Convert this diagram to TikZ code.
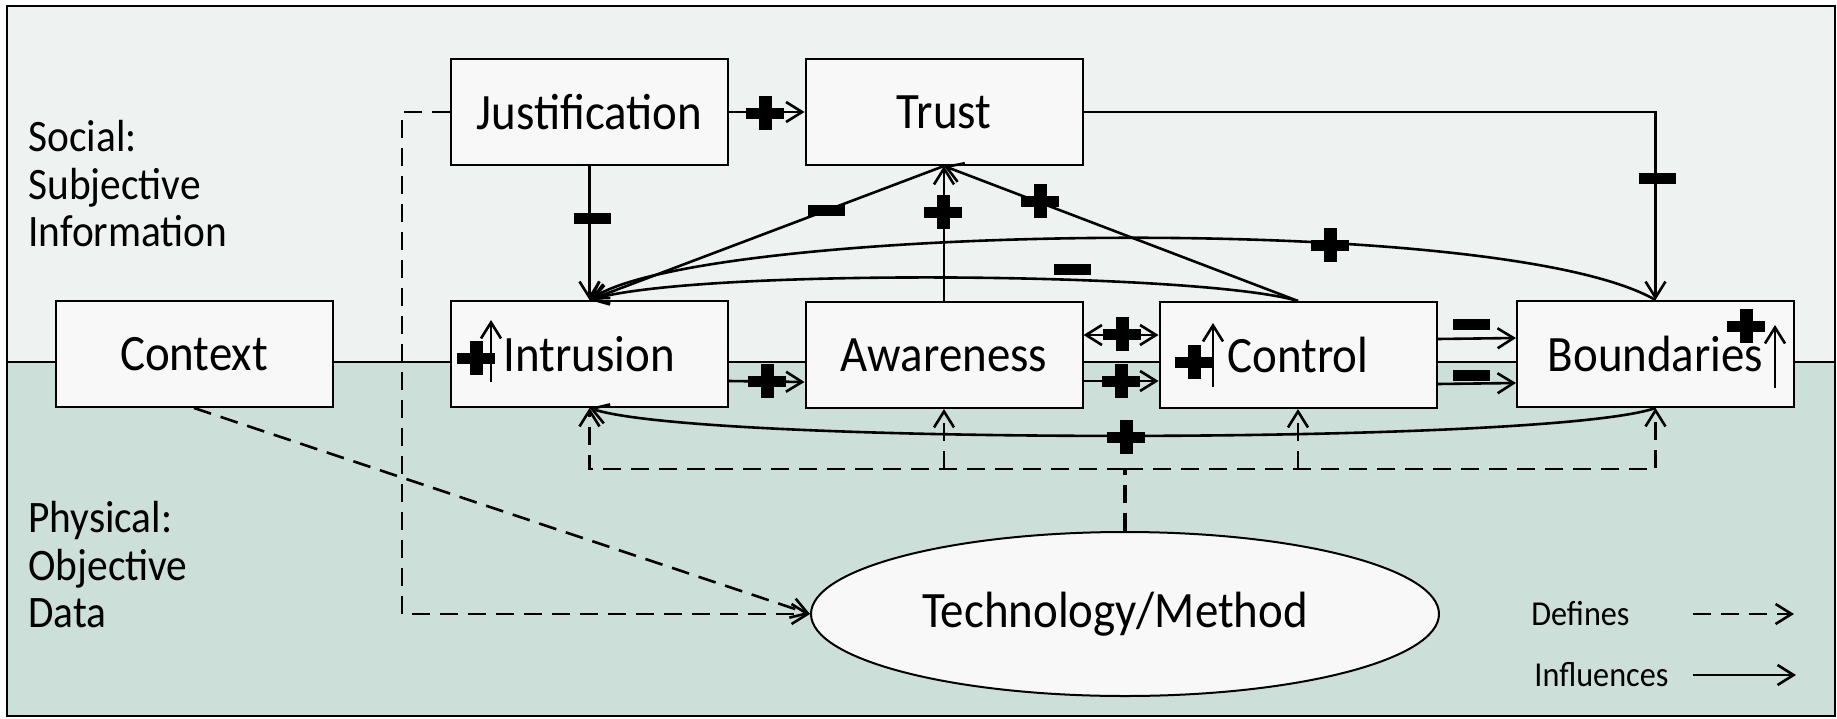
\documentclass[tikz,border=0pt]{standalone}
\usepackage{fontspec}
\setmainfont{Carlito}[FakeStretch=0.92]
\usetikzlibrary{arrows.meta,shapes.geometric}
\definecolor{topbg}{HTML}{EEF3F1}
\definecolor{botbg}{HTML}{CCDFD8}
\definecolor{boxfill}{HTML}{F8F8F8}
\begin{document}
\begin{tikzpicture}[x=0.5pt,y=-0.5pt,
 box/.style={draw, line width=1pt, fill=boxfill, minimum width=138.5pt, minimum height=53pt, inner sep=0pt, font=\fontsize{25.5pt}{30pt}\selectfont},
 infl/.style={line width=1.3pt, -{Straight Barb[length=8pt,width=10pt]}},
 both/.style={line width=1.3pt, {Straight Barb[length=8pt,width=10pt]}-{Straight Barb[length=8pt,width=10pt]}},
 defn/.style={infl, dash pattern=on 9pt off 5pt},
 dline/.style={line width=1.6pt, dash pattern=on 9pt off 5pt},
 sidelbl/.style={anchor=north west, align=left, inner sep=0pt, font=\fontsize{22.5pt}{23.75pt}\selectfont},
 leglbl/.style={anchor=west, inner sep=0pt, font=\fontsize{17.5pt}{20pt}\selectfont},
 plussign/.pic={\fill (-19,-5.5) rectangle (19,5.5); \fill (-6.5,-17) rectangle (6.5,17);},
 minussign/.pic={\fill (-18.5,-5.5) rectangle (18.5,5.5);},
]
\useasboundingbox (0,0) rectangle (1837,718);
\fill[topbg] (7,6) rectangle (1835,362);
\fill[botbg] (7,362) rectangle (1835,716);
\draw[line width=1pt] (7,362) -- (1835,362);
\draw[line width=1.2pt] (7,6) rectangle (1835,716);

% side labels
\node[sidelbl] (social) at (28,120) {Social:\\Subjective\\Information};
\node[sidelbl] (physical) at (28,501) {Physical:\\Objective\\Data};

% boxes
\node[box] (context) at (194,354) {Context};
\node[box] (just) at (589.5,112) {Justification};
\node[box] (trust) at (944,112) {Trust};
\node[box] (intr) at (589.5,354) {Intrusion};
\node[box] (aware) at (944,355) {Awareness};
\node[box] (ctrl) at (1298,355) {Control};
\node[box] (bound) at (1655.5,354) {Boundaries};
\node[draw, ellipse, line width=1pt, fill=boxfill, minimum width=314pt, minimum height=82pt, inner sep=0pt, font=\fontsize{25.5pt}{30pt}\selectfont] (tech) at (1125,614) {\hspace*{-10pt}Technology/Method};

% influences
\draw[infl] (just.east) -- (trust.west);
\draw[infl] (trust.east) -| (bound.north);
\draw[infl] (just.south) -- (intr.north);
\draw[infl] (trust.south) -- (intr.north);
\draw[infl] (aware.north) -- (trust.south);
\draw[infl] (ctrl.north) -- (trust.south);
\draw[infl] (bound.north) .. controls (1500,210) and (700,225) .. (intr.north);
\draw[infl] (ctrl.north) .. controls (1200,272) and (700,268) .. (intr.north);
\draw[both] ([yshift=10pt]aware.east) -- ([yshift=10pt]ctrl.west);
\draw[infl] ([yshift=-13pt]aware.east) -- ([yshift=-13pt]ctrl.west);
\draw[infl] ([yshift=-13.5pt]intr.east) -- ([yshift=-13.5pt]aware.west);
\draw[infl] ([yshift=8pt]ctrl.east) -- ([yshift=8pt]bound.west);
\draw[infl] ([yshift=-14.5pt]ctrl.east) -- ([yshift=-14.5pt]bound.west);
\draw[infl] (bound.south) .. controls (1550,445) and (700,445) .. (intr.south);

% defines
\coordinate (hub) at (1125,469);
\draw[dline] (tech.north) -- (hub);
\draw[defn] (hub) -| (intr.south);
\draw[defn] (hub) -| (bound.south);
\draw[defn] (aware.south |- hub) -- (aware.south);
\draw[defn] (ctrl.south |- hub) -- (ctrl.south);
\coordinate (jl) at (402,112);
\draw[defn] (just.west) -- (jl) |- (tech.west);
\draw[defn] (context.south) -- (tech.west);

% signs on connectors
\pic at (765,113) {plussign};
\pic at (1657,178) {minussign};
\pic at (592,218) {minussign};
\pic at (826,210) {minussign};
\pic at (943,212) {plussign};
\pic at (1040,201) {plussign};
\pic at (1330,245) {plussign};
\pic at (1072,269) {minussign};
\pic at (1122,334) {plussign};
\pic at (1121,381) {plussign};
\pic at (767,381) {plussign};
\pic at (1471,324) {minussign};
\pic at (1471,375) {minussign};
\pic at (1126,437) {plussign};

% marks inside boxes
\pic at (476,358) {plussign};
\coordinate (ia) at (491,382); \coordinate (ib) at (491,320);
\draw[infl] (ia) -- (ib);
\pic at (1194,362) {plussign};
\coordinate (ca) at (1213,387); \coordinate (cb) at (1213,323);
\draw[infl] (ca) -- (cb);
\pic at (1746,326) {plussign};
\coordinate (ba) at (1775,388); \coordinate (bb) at (1775,325);
\draw[infl] (ba) -- (bb);

% legend
\node[leglbl] (deflbl) at (1531,614) {Defines};
\node[leglbl] (inflbl) at (1534,675) {Influences};
\coordinate (d1) at (1693,614); \coordinate (d2) at (1794,614);
\draw[defn] (d1) -- (d2);
\coordinate (i1) at (1693,675); \coordinate (i2) at (1796,675);
\draw[infl] (i1) -- (i2);
\end{tikzpicture}
\end{document}
